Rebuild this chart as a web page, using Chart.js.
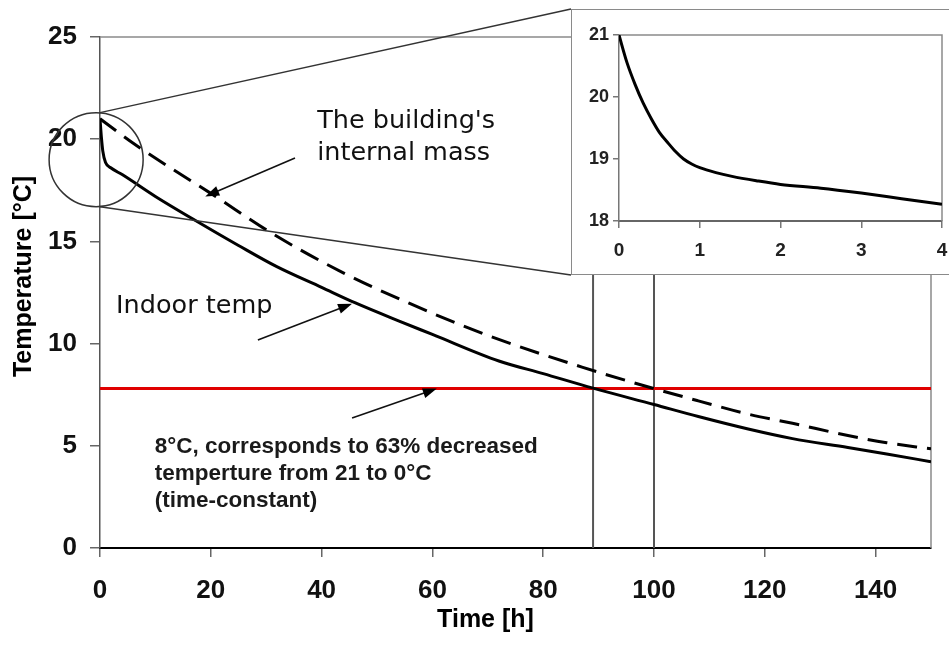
<!DOCTYPE html>
<html><head><meta charset="utf-8">
<script src="https://cdn.jsdelivr.net/npm/chart.js@4.4.1/dist/chart.umd.min.js"></script>
<style>
html,body{margin:0;padding:0;background:#fff;overflow:hidden;width:949px;height:645px;}
#wrap{position:relative;width:949px;height:645px;overflow:hidden;}
#main{position:absolute;left:0;top:0;}
#insetBox{position:absolute;left:571px;top:9px;width:400px;height:264px;border:1px solid #8a8a8a;background:#fff;}
#inset{display:block;}
</style></head><body>
<div id="wrap">
<canvas id="main" width="949" height="645"></canvas>
<div id="insetBox"><canvas id="inset" width="400" height="264"></canvas></div>
</div>
<script>
// ---- data ----
const timeIndoor = [0, 0.25, 0.5, 1, 2, 4, 10, 18, 25, 32, 40, 46, 54, 60, 72, 80, 89, 100, 108, 117, 125, 135, 142, 150];
const tempIndoor = [21, 20.1, 19.43, 18.86, 18.59, 18.27, 17.2, 15.9, 14.8, 13.75, 12.75, 12.0, 11.1, 10.45, 9.15, 8.53, 7.82, 7.02, 6.43, 5.82, 5.35, 4.92, 4.6, 4.22];
const timeMass = [0, 6, 13, 20, 31, 44, 56, 70, 87, 100, 108, 117, 125, 135, 142, 150];
const tempMass = [21, 19.8, 18.55, 17.35, 15.4, 13.45, 11.95, 10.4, 8.85, 7.8, 7.2, 6.55, 6.1, 5.5, 5.15, 4.85];
const timeConstantTemp = 7.8;
const markerTimes = [89, 100];
const xTicks = [0, 20, 40, 60, 80, 100, 120, 140];
const yTicks = [0, 5, 10, 15, 20, 25];

const insetTime = [0, 0.1, 0.2, 0.3, 0.4, 0.5, 0.6, 0.7, 0.8, 0.9, 1.0, 1.2, 1.4, 1.7, 2.0, 2.5, 3.0, 3.5, 4.0];
const insetTemp = [21.0, 20.55, 20.2, 19.9, 19.65, 19.43, 19.27, 19.12, 19.0, 18.92, 18.86, 18.78, 18.72, 18.65, 18.59, 18.53, 18.45, 18.36, 18.27];
const insetXTicks = [0, 1, 2, 3, 4];
const insetYTicks = [18, 19, 20, 21];

const xTitle = 'Time [h]';
const yTitle = 'Temperature [°C]';
const massLabel = ["The building's", 'internal mass'];
const indoorLabel = ['Indoor temp'];
const noteLabel = ['8°C, corresponds to 63% decreased', 'temperture from 21 to 0°C', '(time-constant)'];

const SANS = '"Liberation Sans", Arial, sans-serif';
const zip = (a, b) => a.map((v, i) => ({x: v, y: b[i]}));

function arrow(ctx, x1, y1, x2, y2) {
  const ang = Math.atan2(y2 - y1, x2 - x1);
  const L = 14, W = 5;
  ctx.beginPath();
  ctx.moveTo(x1, y1);
  ctx.lineTo(x2 - L * 0.8 * Math.cos(ang), y2 - L * 0.8 * Math.sin(ang));
  ctx.stroke();
  ctx.beginPath();
  ctx.moveTo(x2, y2);
  ctx.lineTo(x2 - L * Math.cos(ang) + W * Math.sin(ang), y2 - L * Math.sin(ang) - W * Math.cos(ang));
  ctx.lineTo(x2 - L * Math.cos(ang) - W * Math.sin(ang), y2 - L * Math.sin(ang) + W * Math.cos(ang));
  ctx.closePath();
  ctx.fill();
}

const mainDecor = {
  id: 'mainDecor',
  beforeDatasetsDraw(chart) {
    const {ctx, chartArea: a} = chart;
    ctx.save();
    ctx.strokeStyle = '#8a8a8a';
    ctx.lineWidth = 1.5;
    ctx.beginPath();
    ctx.moveTo(a.left, a.top); ctx.lineTo(a.right, a.top); ctx.lineTo(a.right, a.bottom);
    ctx.stroke();
    ctx.restore();
  },
  afterDatasetsDraw(chart) {
    const {ctx, chartArea: a, scales: {x, y}} = chart;
    ctx.save();
    // magnifier circle
    const cx = x.getPixelForValue(-0.7), cy = y.getPixelForValue(19);
    const r = y.getPixelForValue(19) - y.getPixelForValue(21.3);
    ctx.strokeStyle = '#333';
    ctx.lineWidth = 1.5;
    ctx.beginPath(); ctx.arc(cx, cy, r, 0, Math.PI * 2); ctx.stroke();
    // zoom lines to the inset box
    const box = document.getElementById('insetBox');
    const bx = box.offsetLeft, by = box.offsetTop, bb = by + box.offsetHeight;
    ctx.beginPath();
    ctx.moveTo(x.getPixelForValue(0), cy - r); ctx.lineTo(bx, by);
    ctx.moveTo(x.getPixelForValue(0), cy + r); ctx.lineTo(bx, bb);
    ctx.stroke();
    // arrows
    ctx.strokeStyle = '#111'; ctx.fillStyle = '#000'; ctx.lineWidth = 1.6;
    arrow(ctx, x.getPixelForValue(35.2), y.getPixelForValue(19.08), x.getPixelForValue(19.0), y.getPixelForValue(17.2));
    arrow(ctx, x.getPixelForValue(28.5), y.getPixelForValue(10.18), x.getPixelForValue(45.5), y.getPixelForValue(11.95));
    arrow(ctx, x.getPixelForValue(45.5), y.getPixelForValue(6.36), x.getPixelForValue(60.8), y.getPixelForValue(7.8));
    // annotation texts
    ctx.fillStyle = '#111';
    ctx.textAlign = 'left'; ctx.textBaseline = 'alphabetic';
    ctx.font = '25.5px "DejaVu Sans", sans-serif';
    ctx.fillText(massLabel[0], x.getPixelForValue(39.2), y.getPixelForValue(20.55));
    ctx.fillText(massLabel[1], x.getPixelForValue(39.2), y.getPixelForValue(18.98));
    ctx.fillText(indoorLabel[0], x.getPixelForValue(2.9), y.getPixelForValue(11.5));
    ctx.font = 'bold 22.5px ' + SANS;
    ctx.fillStyle = '#1a1a1a';
    const noteY = [4.65, 3.33, 2.0];
    noteLabel.forEach((t, i) => ctx.fillText(t, x.getPixelForValue(9.9), y.getPixelForValue(noteY[i])));
    // axis titles
    ctx.fillStyle = '#000';
    ctx.font = 'bold 25px ' + SANS;
    ctx.textAlign = 'center'; ctx.textBaseline = 'middle';
    ctx.fillText(xTitle, (a.left + a.right) / 2 - 30, a.bottom + 72);
    ctx.translate(a.left - 76, (a.top + a.bottom) / 2 - 16);
    ctx.rotate(-Math.PI / 2);
    ctx.fillText(yTitle, 0, 0);
    ctx.restore();
  }
};

const tickFont = {family: SANS, size: 26, weight: 'bold'};

new Chart(document.getElementById('main'), {
  type: 'scatter',
  data: {
    datasets: [
      {data: zip(timeIndoor, tempIndoor), showLine: true, borderColor: '#000', borderWidth: 3, pointRadius: 0, cubicInterpolationMode: 'monotone'},
      {data: zip(timeMass, tempMass), showLine: true, borderColor: '#000', borderWidth: 3, borderDash: [20, 10], pointRadius: 0, cubicInterpolationMode: 'monotone'},
      {data: [{x: 0, y: timeConstantTemp}, {x: 150, y: timeConstantTemp}], showLine: true, borderColor: '#e00000', borderWidth: 3, pointRadius: 0},
      {data: [{x: markerTimes[0], y: 0}, {x: markerTimes[0], y: 25}], showLine: true, borderColor: '#555', borderWidth: 2, pointRadius: 0},
      {data: [{x: markerTimes[1], y: 0}, {x: markerTimes[1], y: 25}], showLine: true, borderColor: '#555', borderWidth: 2, pointRadius: 0}
    ]
  },
  options: {
    responsive: false, animation: false, events: [],
    layout: {padding: {left: 0, right: 18, top: 37, bottom: 0}},
    plugins: {legend: {display: false}, tooltip: {enabled: false}},
    scales: {
      x: {
        type: 'linear', min: 0, max: 150,
        afterBuildTicks: s => { s.ticks = xTicks.map(v => ({value: v})); },
        afterFit: s => { s.height = 97; },
        grid: {drawOnChartArea: false, drawTicks: true, tickLength: 9, color: '#666', lineWidth: 1.5},
        border: {display: true, color: '#000', width: 2},
        ticks: {font: tickFont, color: '#111', padding: 18, maxRotation: 0}
      },
      y: {
        type: 'linear', min: 0, max: 25,
        afterBuildTicks: s => { s.ticks = yTicks.map(v => ({value: v})); },
        afterFit: s => { s.width = 100; },
        grid: {drawOnChartArea: false, drawTicks: true, tickLength: 10, color: '#666', lineWidth: 1.5},
        border: {display: true, color: '#555', width: 1.5},
        ticks: {font: tickFont, color: '#111', padding: 13}
      }
    }
  },
  plugins: [mainDecor]
});

const insetFrame = {
  id: 'insetFrame',
  beforeDatasetsDraw(chart) {
    const {ctx, chartArea: a} = chart;
    ctx.save();
    ctx.strokeStyle = '#8a8a8a'; ctx.lineWidth = 1.5;
    ctx.beginPath();
    ctx.moveTo(a.left, a.top); ctx.lineTo(a.right, a.top); ctx.lineTo(a.right, a.bottom);
    ctx.stroke();
    ctx.restore();
  }
};

new Chart(document.getElementById('inset'), {
  type: 'scatter',
  data: {datasets: [{data: zip(insetTime, insetTemp), showLine: true, borderColor: '#000', borderWidth: 3, pointRadius: 0, cubicInterpolationMode: 'monotone'}]},
  options: {
    responsive: false, animation: false, events: [],
    layout: {padding: {left: 0, right: 30, top: 25, bottom: 0}},
    plugins: {legend: {display: false}, tooltip: {enabled: false}},
    scales: {
      x: {
        type: 'linear', min: 0, max: 4,
        afterBuildTicks: s => { s.ticks = insetXTicks.map(v => ({value: v})); },
        afterFit: s => { s.height = 53; },
        grid: {drawOnChartArea: false, drawTicks: true, tickLength: 7, color: '#777', lineWidth: 1.5},
        border: {display: true, color: '#666', width: 2},
        ticks: {font: {family: SANS, size: 19, weight: 'bold'}, color: '#222', padding: 11, maxRotation: 0}
      },
      y: {
        type: 'linear', min: 18, max: 21,
        afterBuildTicks: s => { s.ticks = insetYTicks.map(v => ({value: v})); },
        afterFit: s => { s.width = 47; },
        grid: {drawOnChartArea: false, drawTicks: true, tickLength: 6, color: '#777', lineWidth: 1.5},
        border: {display: true, color: '#777', width: 1.5},
        ticks: {font: {family: SANS, size: 18, weight: 'bold'}, color: '#222', padding: 4}
      }
    }
  },
  plugins: [insetFrame]
});
</script>
</body></html>
